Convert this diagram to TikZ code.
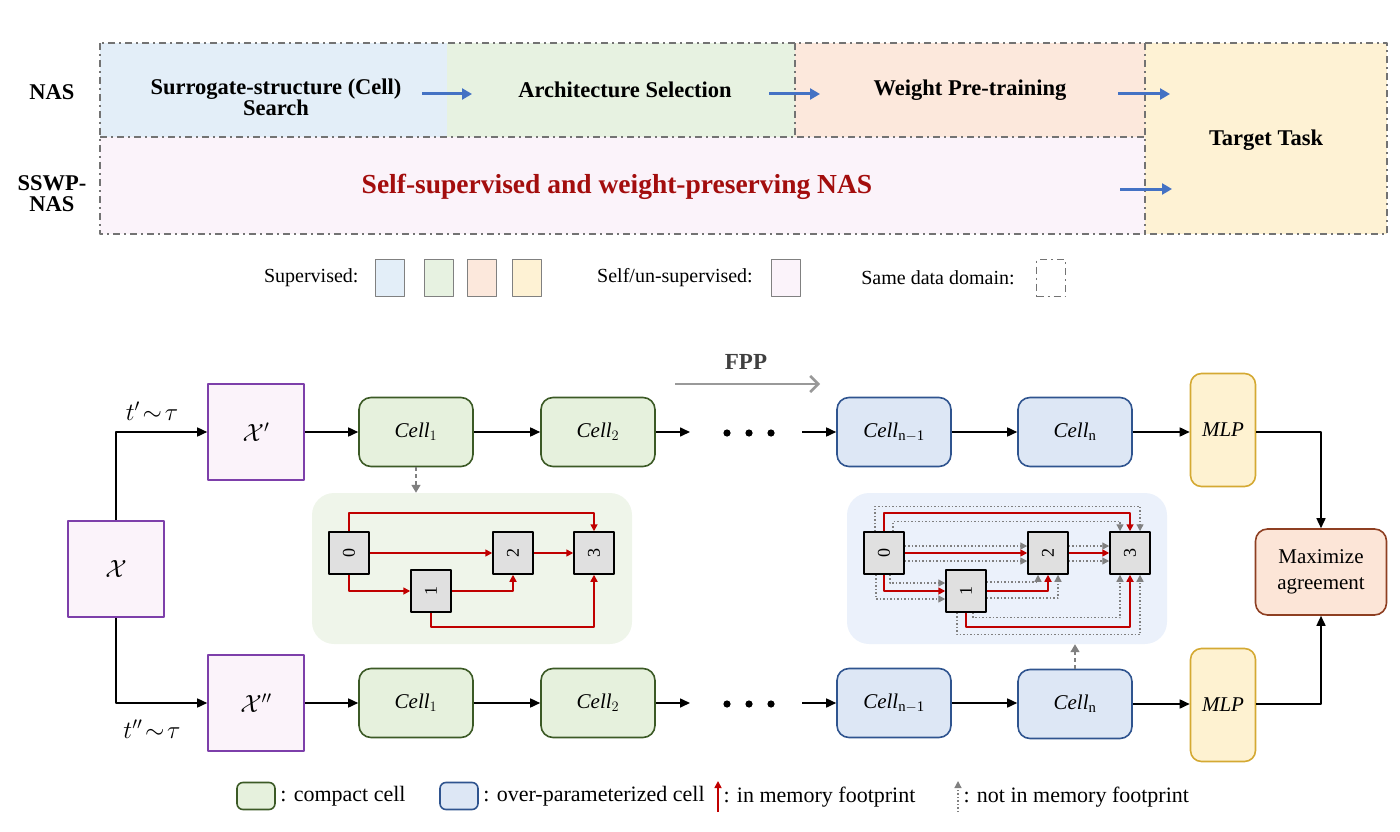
\documentclass[tikz,border=0pt]{standalone}
\usepackage{amsmath,amssymb}
\usepackage{graphicx}
\usepackage{fontspec}
\setmainfont{Liberation Serif}
\usetikzlibrary{arrows.meta,positioning,calc}

\definecolor{cblue}{HTML}{E3EEF8}
\definecolor{cgreen}{HTML}{E7F2E1}
\definecolor{cpeach}{HTML}{FCE8DC}
\definecolor{cyellow}{HTML}{FEF2D4}
\definecolor{cpink}{HTML}{FBF3FA}
\definecolor{arrblue}{HTML}{4472C4}
\definecolor{darkred}{HTML}{A30D0D}
\definecolor{edgered}{HTML}{C00000}
\definecolor{purp}{HTML}{7D3FAA}
\definecolor{cgb}{HTML}{3C5A26}
\definecolor{cgf}{HTML}{E6F1DD}
\definecolor{cbb}{HTML}{2F548F}
\definecolor{cbf}{HTML}{DDE7F5}
\definecolor{mlpb}{HTML}{D4A933}
\definecolor{mlpf}{HTML}{FEF2D1}
\definecolor{maxb}{HTML}{8E3F22}
\definecolor{maxf}{HTML}{FCE5D7}
\definecolor{pg}{HTML}{EFF5EA}
\definecolor{pb}{HTML}{EBF1FB}
\definecolor{opgray}{HTML}{E0E0E0}

\begin{document}
\begin{tikzpicture}[x=1pt, y=-1pt, line join=round, >={Triangle[length=10pt,width=9pt]},
	dom/.style={black!55, line width=1.4pt, dash pattern=on 7pt off 4pt on 2pt off 4pt},
	bar/.style={arrblue, line width=3pt, -{Triangle[length=10pt,width=11pt]}},
	ttl/.style={font=\bfseries\fontsize{22.5}{21}\selectfont, align=center},
	lbl/.style={font=\fontsize{20}{24}\selectfont},
	key/.style={draw=black!50, line width=1.4pt, minimum width=29pt, minimum height=37pt},
	xbox/.style={draw=purp, fill=cpink, line width=1.6pt, minimum size=96pt, font=\fontsize{26}{28}\selectfont},
	ccell/.style={draw=cgb, fill=cgf, line width=1.6pt, rounded corners=12pt, minimum width=114pt, minimum height=69pt, font=\fontsize{21}{24}\selectfont},
	ocell/.style={ccell, draw=cbb, fill=cbf},
	mlp/.style={draw=mlpb, fill=mlpf, line width=1.6pt, rounded corners=11pt, minimum width=65pt, minimum height=113pt, font=\fontsize{21}{24}\selectfont},
	flow/.style={->, line width=1.6pt},
	op/.style={draw, fill=opgray, line width=1.5pt, minimum width=40pt, minimum height=42pt, inner sep=0pt, font=\fontsize{18}{20}\selectfont},
	inmem/.style={edgered, line width=1.6pt, -{Triangle[length=7pt,width=7pt]}},
	notmem/.style={black!50, line width=1.3pt, dash pattern=on 1.5pt off 2pt, -{Triangle[length=7pt,width=7pt]}},
	tap/.style={black!50, line width=1.5pt, dash pattern=on 4pt off 3pt, -{Triangle[length=8pt,width=9pt]}}]
	\useasboundingbox (0,0) rectangle (1400,832);
	\def\rot#1{\rotatebox{90}{#1}} % vertical op labels
	\def\key{\fontsize{22}{24}\selectfont} % cell legend
	% --- top band ---
	\fill[cblue] (100,43) rectangle (447,137);
	\fill[cgreen] (447,43) rectangle (795,137);
	\fill[cpeach] (795,43) rectangle (1145,137);
	\fill[cpink] (100,137) rectangle (1145,234);
	\fill[cyellow] (1145,43) rectangle (1387,234);
	\draw[dom] (100,43) rectangle (1387,234);
	\draw[dom] (100,137) -- (1145,137) (795,43) -- (795,137) (1145,43) -- (1145,234);
	\node[ttl] (nas) at (52,92) {NAS};
	\node[ttl] (sswp) at (52,194) {SSWP-\\NAS};
	\node[ttl] (srch) at (276,97) {Surrogate-structure (Cell)\\Search};
	\node[ttl] (arch) at (625,90) {Architecture Selection};
	\node[ttl] (wpt) at (970,90) {Weight Pre-training};
	\node[ttl] (tgt) at (1266,140) {Target Task};
	\node[ttl, text=darkred, font=\bfseries\fontsize{27.5}{30}\selectfont] (ssl) at (617,187) {Self-supervised and weight-preserving NAS};
	\coordinate (p1) at (422,94); \coordinate (q1) at (472,94);
	\coordinate (p2) at (769,94); \coordinate (q2) at (820,94);
	\coordinate (p3) at (1118,94); \coordinate (q3) at (1170,94);
	\coordinate (p4) at (1120,189); \coordinate (q4) at (1172,189);
	\draw[bar] (p1) -- (q1);
	\draw[bar] (p2) -- (q2);
	\draw[bar] (p3) -- (q3);
	\draw[bar] (p4) -- (q4);
	% --- legend of the band ---
	\node[lbl, anchor=east] (sup) at (362,278) {Supervised:};
	\node[key, fill=cblue] (k1) at (390,278) {};
	\node[key, fill=cgreen] (k2) at (439,278) {};
	\node[key, fill=cpeach] (k3) at (482,278) {};
	\node[key, fill=cyellow] (k4) at (527,278) {};
	\node[lbl] (self) at (675,278) {Self/un-supervised:};
	\node[key, fill=cpink] (k5) at (786,278) {};
	\node[lbl] (same) at (938,278) {Same data domain:};
	\node[key, dom] (k6) at (1051,278) {};
	% --- two branches ---
	\node[xbox] (x) at (116,569) {$\mathcal{X}$};
	\node[xbox] (xa) at (256,432) {$\mathcal{X}'$};
	\node[xbox] (xb) at (256,703) {$\mathcal{X}''$};
	\node[font=\fontsize{23}{24}\selectfont] (ta) at (152,411) {$t'\!\sim\!\tau$};
	\node[font=\fontsize{23}{24}\selectfont] (tb) at (152,729) {$t''\!\sim\!\tau$};
	\node[ccell] (c1) at (416,432) {$\mathit{Cell}_1$};
	\node[ccell] (c2) at (598,432) {$\mathit{Cell}_2$};
	\node[ocell] (cm) at (894,432) {$\mathit{Cell}_{\mathrm{n-1}}$};
	\node[ocell] (cn) at (1075,432) {$\mathit{Cell}_{\mathrm{n}}$};
	\node[mlp] (m1) at (1223,430) {$\mathit{MLP}$};
	\coordinate (da) at (690,432); \coordinate (db) at (802,432); \coordinate (dd) at (749,433);
	\node[ccell] (c1b) at (416,703) {$\mathit{Cell}_1$};
	\node[ccell] (c2b) at (598,703) {$\mathit{Cell}_2$};
	\node[ocell] (cmb) at (894,703) {$\mathit{Cell}_{\mathrm{n-1}}$};
	\node[ocell] (cnb) at (1075,704) {$\mathit{Cell}_{\mathrm{n}}$};
	\node[mlp] (m2) at (1223,705) {$\mathit{MLP}$};
	\coordinate (ea) at (690,703); \coordinate (eb) at (802,703); \coordinate (ee) at (749,704);
	\node[draw=maxb, fill=maxf, line width=1.6pt, rounded corners=12pt, minimum width=131pt, minimum height=86pt, align=center, font=\fontsize{21}{26}\selectfont] (agr) at (1321,572) {Maximize\\agreement};
	\foreach \i in {-1,0,1} {
		\fill ($(dd)+(\i*22,0)$) circle (3.6);
		\fill ($(ee)+(\i*22,0)$) circle (3.6);
	}
	\draw[flow] (x.north) |- (xa.west);
	\draw[flow] (x.south) |- (xb.west);
	\draw[flow] (xa) -- (c1);
	\draw[flow] (c1) -- (c2);
	\draw[flow] (c2) -- (da);
	\draw[flow] (db) -- (cm);
	\draw[flow] (cm) -- (cn);
	\draw[flow] (cn) -- (cn -| m1.west);
	\draw[flow] (xb) -- (c1b);
	\draw[flow] (c1b) -- (c2b);
	\draw[flow] (c2b) -- (ea);
	\draw[flow] (eb) -- (cmb);
	\draw[flow] (cmb) -- (cmb -| cnb.west);
	\draw[flow] (cnb) -- (cnb -| m2.west);
	\draw[flow] (m1.east |- cn) -| (agr.north);
	\draw[flow] (m2.east |- cnb) -| (agr.south);
	% FPP
	\node[font=\bfseries\fontsize{23}{24}\selectfont, text=black!75] (fpp) at (746,362) {FPP};
	\coordinate (f1) at (675,384); \coordinate (f2) at (820,384);
	\draw[black!40, line width=2.5pt, -{Straight Barb[length=8pt,width=16pt]}] (f1) -- (f2);
	% --- compact cell ---
	\node[fill=pg, rounded corners=22pt, minimum width=320pt, minimum height=151pt] (pa) at (472,568.5) {};
	\node[op] (a0) at (349,553) {\rot{0}};
	\node[op] (a1) at (431,591) {\rot{1}};
	\node[op] (a2) at (513,553) {\rot{2}};
	\node[op] (a3) at (594,553) {\rot{3}};
	\draw[inmem] (a0.north) -- ++(0,-18) -| (a3.north);
	\draw[inmem] (a0) -- (a2);
	\draw[inmem] (a0.south) |- (a1.west);
	\draw[inmem] (a1.east) -| (a2.south);
	\draw[inmem] (a2) -- (a3);
	\draw[inmem] (a1.south) -- ++(0,14) -| (a3.south);
	\draw[tap] (c1.south) -- (c1.south |- pa.north);
	% --- over-parameterized cell ---
	\node[fill=pb, rounded corners=22pt, minimum width=320pt, minimum height=151pt] (pbx) at (1007,568.5) {};
	\node[op] (b0) at (884,553) {\rot{0}};
	\node[op] (b1) at (966,591) {\rot{1}};
	\node[op] (b2) at (1048,553) {\rot{2}};
	\node[op] (b3) at (1130,553) {\rot{3}};
	\draw[notmem] ($(b0.north)+(-9,0)$) -- ++(0,-25) -| ($(b3.north)+(10,0)$);
	\draw[notmem] ($(b0.north)+(9,0)$) -- ++(0,-10) -| ($(b3.north)+(-10,0)$);
	\draw[notmem] ($(b0.east)+(0,-7)$) -- ($(b2.west)+(0,-7)$);
	\draw[notmem] ($(b0.east)+(0,8)$) -- ($(b2.west)+(0,8)$);
	\draw[notmem] ($(b0.south)+(6,0)$) |- ($(b1.west)+(0,-8)$);
	\draw[notmem] ($(b0.south)+(-8,0)$) |- ($(b1.west)+(0,8)$);
	\draw[notmem] ($(b1.east)+(0,-9)$) -| ($(b2.south)+(-10,0)$);
	\draw[notmem] ($(b1.east)+(0,7)$) -| ($(b2.south)+(10,0)$);
	\draw[notmem] ($(b2.east)+(0,-7)$) -- ($(b3.west)+(0,-7)$);
	\draw[notmem] ($(b2.east)+(0,8)$) -- ($(b3.west)+(0,8)$);
	\draw[notmem] ($(b1.south)+(7,0)$) -- ++(0,5) -| ($(b3.south)+(-10,0)$);
	\draw[notmem] ($(b1.south)+(-9,0)$) -- ++(0,22) -| ($(b3.south)+(10,0)$);
	\draw[inmem] (b0.north) -- ++(0,-18) -| (b3.north);
	\draw[inmem] (b0) -- (b2);
	\draw[inmem] (b0.south) |- (b1.west);
	\draw[inmem] (b1.east) -| (b2.south);
	\draw[inmem] (b2) -- (b3);
	\draw[inmem] (b1.south) -- ++(0,14) -| (b3.south);
	\draw[tap] (cnb.north) -- (cnb.north |- pbx.south);
	% --- legend of the cells ---
	\node[ccell, minimum width=38pt, minimum height=27pt, rounded corners=6pt] (kc) at (256,796) {};
	\node[font=\key, right=1pt of kc] (kct) {: compact cell};
	\node[ocell, minimum width=38pt, minimum height=27pt, rounded corners=6pt] (ko) at (459,796) {};
	\node[font=\key, right=1pt of ko] (kot) {: over-parameterized cell};
	\coordinate (r1) at (718,812); \coordinate (r2) at (718,781);
	\draw[inmem] (r1) -- (r2);
	\node[font=\key, anchor=west] (kit) at (720,797) {: in memory footprint};
	\coordinate (g1) at (958,812); \coordinate (g2) at (958,781);
	\draw[notmem] (g1) -- (g2);
	\node[font=\key, anchor=west] (knt) at (960,797) {: not in memory footprint};
\end{tikzpicture}
\end{document}
